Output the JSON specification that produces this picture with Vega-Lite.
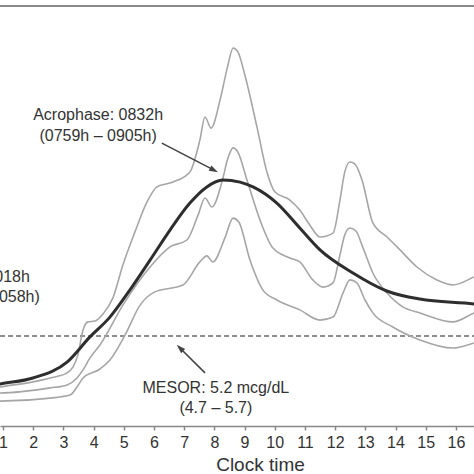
{
  "$schema": "https://vega.github.io/schema/vega-lite/v6.json",
  "width": 474,
  "height": 420,
  "autosize": {"type": "none"},
  "padding": {"left": 0, "top": 6, "right": 0, "bottom": 48},
  "background": "white",
  "config": {
    "view": {"stroke": null},
    "font": "Liberation Sans",
    "text": {"font": "Liberation Sans"},
    "axisX": {"labelOverlap": false, "labelFlush": false, "grid": false}
  },
  "datasets": {
    "bands": [
      {"s": "upper", "h": 0.73, "v": 3.47}, {"s": "upper", "h": 0.9, "v": 3.5}, {"s": "upper", "h": 1.99, "v": 3.67}, {"s": "upper", "h": 2.56, "v": 3.8}, {"s": "upper", "h": 3.12, "v": 3.97}, {"s": "upper", "h": 3.32, "v": 4.17}, {"s": "upper", "h": 3.48, "v": 4.57}, {"s": "upper", "h": 3.65, "v": 5.4}, {"s": "upper", "h": 3.81, "v": 5.67}, {"s": "upper", "h": 4.05, "v": 5.7}, {"s": "upper", "h": 4.31, "v": 5.93}, {"s": "upper", "h": 4.64, "v": 6.47}, {"s": "upper", "h": 4.97, "v": 7.57}, {"s": "upper", "h": 5.37, "v": 8.67}, {"s": "upper", "h": 5.77, "v": 9.67}, {"s": "upper", "h": 6.1, "v": 10.17}, {"s": "upper", "h": 6.63, "v": 10.33}, {"s": "upper", "h": 7.19, "v": 10.67}, {"s": "upper", "h": 7.52, "v": 11.73}, {"s": "upper", "h": 7.69, "v": 12.5}, {"s": "upper", "h": 7.89, "v": 12.13}, {"s": "upper", "h": 8.19, "v": 13.07}, {"s": "upper", "h": 8.45, "v": 14.23}, {"s": "upper", "h": 8.62, "v": 14.8}, {"s": "upper", "h": 8.78, "v": 14.67}, {"s": "upper", "h": 9.01, "v": 13.9}, {"s": "upper", "h": 9.41, "v": 12.17}, {"s": "upper", "h": 9.74, "v": 10.67}, {"s": "upper", "h": 10.01, "v": 10.0}, {"s": "upper", "h": 10.5, "v": 9.73}, {"s": "upper", "h": 10.83, "v": 9.4}, {"s": "upper", "h": 11.16, "v": 8.9}, {"s": "upper", "h": 11.5, "v": 8.5}, {"s": "upper", "h": 11.93, "v": 8.63}, {"s": "upper", "h": 12.16, "v": 9.73}, {"s": "upper", "h": 12.32, "v": 10.67}, {"s": "upper", "h": 12.49, "v": 11.0}, {"s": "upper", "h": 12.66, "v": 10.93}, {"s": "upper", "h": 12.89, "v": 10.4}, {"s": "upper", "h": 13.25, "v": 8.97}, {"s": "upper", "h": 13.72, "v": 8.5}, {"s": "upper", "h": 14.15, "v": 8.07}, {"s": "upper", "h": 14.71, "v": 7.5}, {"s": "upper", "h": 15.37, "v": 7.07}, {"s": "upper", "h": 15.9, "v": 6.9}, {"s": "upper", "h": 16.6, "v": 7.17}, {"s": "upper", "h": 16.93, "v": 7.33},
      {"s": "middle", "h": 0.73, "v": 3.3}, {"s": "middle", "h": 0.9, "v": 3.3}, {"s": "middle", "h": 2.56, "v": 3.47}, {"s": "middle", "h": 3.12, "v": 3.57}, {"s": "middle", "h": 3.45, "v": 3.8}, {"s": "middle", "h": 3.65, "v": 4.07}, {"s": "middle", "h": 3.88, "v": 4.47}, {"s": "middle", "h": 4.21, "v": 4.9}, {"s": "middle", "h": 4.97, "v": 6.23}, {"s": "middle", "h": 5.87, "v": 7.5}, {"s": "middle", "h": 6.53, "v": 8.17}, {"s": "middle", "h": 7.09, "v": 8.4}, {"s": "middle", "h": 7.46, "v": 9.23}, {"s": "middle", "h": 7.69, "v": 9.8}, {"s": "middle", "h": 7.92, "v": 9.5}, {"s": "middle", "h": 8.25, "v": 10.33}, {"s": "middle", "h": 8.45, "v": 11.13}, {"s": "middle", "h": 8.62, "v": 11.47}, {"s": "middle", "h": 8.78, "v": 11.33}, {"s": "middle", "h": 9.08, "v": 10.4}, {"s": "middle", "h": 9.51, "v": 9.07}, {"s": "middle", "h": 9.94, "v": 8.13}, {"s": "middle", "h": 10.5, "v": 7.8}, {"s": "middle", "h": 10.83, "v": 7.67}, {"s": "middle", "h": 11.26, "v": 7.07}, {"s": "middle", "h": 11.6, "v": 6.83}, {"s": "middle", "h": 11.93, "v": 6.97}, {"s": "middle", "h": 12.16, "v": 7.9}, {"s": "middle", "h": 12.32, "v": 8.57}, {"s": "middle", "h": 12.49, "v": 8.8}, {"s": "middle", "h": 12.69, "v": 8.7}, {"s": "middle", "h": 12.89, "v": 8.23}, {"s": "middle", "h": 13.25, "v": 7.3}, {"s": "middle", "h": 13.72, "v": 6.63}, {"s": "middle", "h": 14.24, "v": 6.17}, {"s": "middle", "h": 14.81, "v": 5.97}, {"s": "middle", "h": 15.9, "v": 5.67}, {"s": "middle", "h": 16.6, "v": 5.97}, {"s": "middle", "h": 16.93, "v": 6.1},
      {"s": "lower", "h": 0.73, "v": 3.03}, {"s": "lower", "h": 0.9, "v": 3.03}, {"s": "lower", "h": 2.56, "v": 3.13}, {"s": "lower", "h": 3.22, "v": 3.23}, {"s": "lower", "h": 3.45, "v": 3.5}, {"s": "lower", "h": 3.65, "v": 3.8}, {"s": "lower", "h": 4.21, "v": 4.1}, {"s": "lower", "h": 4.54, "v": 4.4}, {"s": "lower", "h": 5.04, "v": 5.23}, {"s": "lower", "h": 5.54, "v": 6.23}, {"s": "lower", "h": 6.03, "v": 6.67}, {"s": "lower", "h": 6.96, "v": 6.9}, {"s": "lower", "h": 7.52, "v": 7.67}, {"s": "lower", "h": 7.75, "v": 7.87}, {"s": "lower", "h": 7.95, "v": 7.67}, {"s": "lower", "h": 8.35, "v": 8.47}, {"s": "lower", "h": 8.62, "v": 9.13}, {"s": "lower", "h": 8.81, "v": 9.0}, {"s": "lower", "h": 9.18, "v": 7.73}, {"s": "lower", "h": 9.61, "v": 6.73}, {"s": "lower", "h": 10.07, "v": 6.4}, {"s": "lower", "h": 10.83, "v": 6.07}, {"s": "lower", "h": 11.5, "v": 5.73}, {"s": "lower", "h": 11.93, "v": 5.83}, {"s": "lower", "h": 12.26, "v": 6.63}, {"s": "lower", "h": 12.49, "v": 7.07}, {"s": "lower", "h": 12.72, "v": 6.97}, {"s": "lower", "h": 12.99, "v": 6.4}, {"s": "lower", "h": 13.25, "v": 5.97}, {"s": "lower", "h": 13.91, "v": 5.5}, {"s": "lower", "h": 14.81, "v": 5.07}, {"s": "lower", "h": 15.9, "v": 4.8}, {"s": "lower", "h": 16.6, "v": 4.97}, {"s": "lower", "h": 16.93, "v": 5.07}
    ],
    "fit": [
      {"h": 0.57, "v": 3.53}, {"h": 0.9, "v": 3.6}, {"h": 1.99, "v": 3.8}, {"h": 3.12, "v": 4.33}, {"h": 3.88, "v": 5.17}, {"h": 4.54, "v": 5.83}, {"h": 5.2, "v": 6.73}, {"h": 5.87, "v": 7.73}, {"h": 6.53, "v": 8.73}, {"h": 7.19, "v": 9.63}, {"h": 7.75, "v": 10.17}, {"h": 8.28, "v": 10.4}, {"h": 8.85, "v": 10.33}, {"h": 9.28, "v": 10.17}, {"h": 10.07, "v": 9.63}, {"h": 10.83, "v": 8.8}, {"h": 11.5, "v": 8.07}, {"h": 12.59, "v": 7.3}, {"h": 13.71, "v": 6.7}, {"h": 14.81, "v": 6.43}, {"h": 16.6, "v": 6.27}, {"h": 16.93, "v": 6.23}
    ],
    "labels": [
      {"h": 4.15, "v": 12.57, "t": "Acrophase: 0832h"},
      {"h": 4.15, "v": 11.87, "t": "(0759h – 0905h)"},
      {"h": 8.05, "v": 3.47, "t": "MESOR: 5.2 mcg/dL"},
      {"h": 8.05, "v": 2.8, "t": "(4.7 – 5.7)"}
    ],
    "leftlabels": [
      {"h": 1.89, "v": 7.17, "t": "Bathyphase: 2018h"},
      {"h": 2.22, "v": 6.5, "t": "(1938h – 2058h)"}
    ]
  },
  "encoding": {
    "x": {"field": "h", "type": "quantitative", "scale": {"domain": [0.9, 16.6], "nice": false, "zero": false},
      "axis": {"values": [1, 2, 3, 4, 5, 6, 7, 8, 9, 10, 11, 12, 13, 14, 15, 16], "title": "Clock time", "grid": false, "labelFlush": false, "labelOverlap": false,
        "domainColor": "#888888", "domainWidth": 1.5, "tickColor": "#888888", "tickWidth": 1.5, "tickSize": 4,
        "labelFontSize": 16, "labelColor": "#333333", "labelPadding": 4, "labelFont": "Liberation Sans",
        "titleFontSize": 19, "titleFontWeight": "normal", "titleColor": "#333333", "titlePadding": 5, "titleX": 260, "titleFont": "Liberation Sans"}},
    "y": {"field": "v", "type": "quantitative", "scale": {"domain": [2.2, 16.2], "nice": false, "zero": false}, "axis": null}
  },
  "layer": [
    {
      "data": {"values": [{"h": 0.9, "h2": 16.6, "v": 16.2}]},
      "mark": {"type": "rule", "color": "#8a8a8a", "strokeWidth": 2},
      "encoding": {"x2": {"field": "h2"}}
    },
    {
      "data": {"values": [{"h": 0.9, "h2": 16.6, "v": 5.2}]},
      "mark": {"type": "rule", "color": "#6a6a6a", "strokeWidth": 1.6, "strokeDash": [5, 3]},
      "encoding": {"x2": {"field": "h2"}}
    },
    {
      "data": {"name": "bands"},
      "mark": {"type": "line", "color": "#a6a6a6", "strokeWidth": 1.6, "interpolate": "monotone", "clip": true},
      "encoding": {"detail": {"field": "s"}}
    },
    {
      "data": {"name": "fit"},
      "mark": {"type": "line", "color": "#2e2e2e", "strokeWidth": 3, "interpolate": "monotone", "clip": true},
      "encoding": {}
    },
    {
      "data": {"values": [{"h": 6.26, "v": 11.63, "h2": 7.99, "v2": 10.73}, {"h": 7.69, "v": 3.97, "h2": 6.86, "v2": 4.8}]},
      "mark": {"type": "rule", "color": "#444444", "strokeWidth": 1.6},
      "encoding": {"x2": {"field": "h2"}, "y2": {"field": "v2"}}
    },
    {
      "data": {"values": [{"h": 7.99, "v": 10.73}]},
      "mark": {"type": "point", "shape": "M0,-1L0.65,1L-0.65,1Z", "filled": true, "color": "#444444", "size": 81, "angle": 117, "opacity": 1}
    },
    {
      "data": {"values": [{"h": 6.86, "v": 4.8}]},
      "mark": {"type": "point", "shape": "M0,-1L0.65,1L-0.65,1Z", "filled": true, "color": "#444444", "size": 81, "angle": 315, "opacity": 1}
    },
    {
      "data": {"name": "labels"},
      "mark": {"type": "text", "fontSize": 16, "color": "#333333", "align": "center", "baseline": "middle", "font": "Liberation Sans"},
      "encoding": {"text": {"field": "t"}}
    },
    {
      "data": {"name": "leftlabels"},
      "mark": {"type": "text", "fontSize": 16, "color": "#333333", "align": "right", "baseline": "middle", "font": "Liberation Sans", "clip": true},
      "encoding": {"text": {"field": "t"}}
    }
  ]
}
